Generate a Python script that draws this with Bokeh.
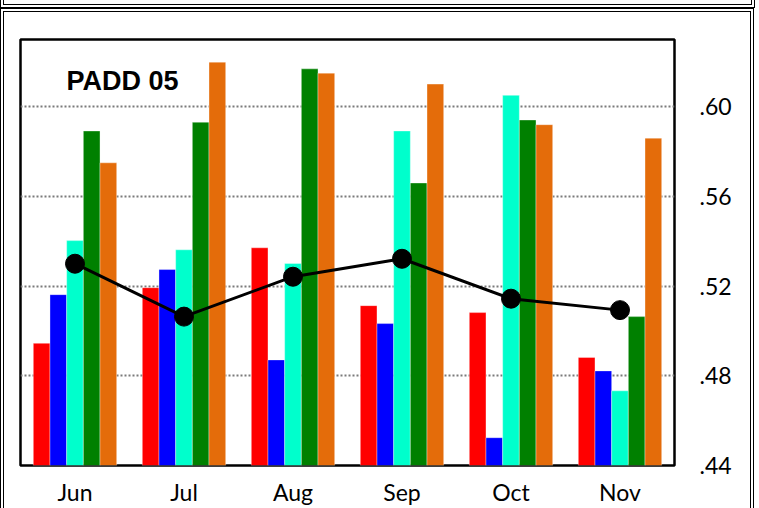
from bokeh.plotting import figure
from bokeh.models import ColumnDataSource, FactorRange, Range1d, Label, FixedTicker, Div
from bokeh.layouts import column
from bokeh.transform import dodge
from bokeh.embed import file_html
from bokeh.resources import INLINE

# ---------------- data ----------------
months = ["Jun", "Jul", "Aug", "Sep", "Oct", "Nov"]
series_red = [0.4945, 0.5193, 0.5371, 0.5113, 0.5082, 0.4882]
series_blue = [0.5162, 0.5274, 0.4871, 0.5033, 0.4524, 0.4822]
series_cyan = [0.5403, 0.5362, 0.5301, 0.5892, 0.6051, 0.4733]
series_green = [0.5892, 0.5931, 0.6169, 0.5660, 0.5941, 0.5064]
series_orange = [0.5750, 0.6199, 0.6150, 0.6101, 0.5920, 0.5860]
line_values = [0.5300, 0.5064, 0.5242, 0.5322, 0.5144, 0.5093]
y_ticks = [0.44, 0.48, 0.52, 0.56, 0.60]
y_tick_labels = [".44", ".48", ".52", ".56", ".60"]
chart_title = "PADD 05"
y_min, y_max = 0.44, 0.63

source = ColumnDataSource(dict(
    month=months, red=series_red, blue=series_blue, cyan=series_cyan,
    green=series_green, orange=series_orange, line=line_values))

bar_specs = [("red", "#FF0000"), ("blue", "#0000FF"), ("cyan", "#00FFCC"),
             ("green", "#008000"), ("orange", "#E46C0A")]
bar_w = 0.153

p = figure(x_range=FactorRange(factors=months), y_range=Range1d(y_min, y_max),
           width=746, height=496, output_backend="svg", toolbar_location=None,
           y_axis_location="right",
           min_border_left=16, min_border_top=27, min_border_right=76,
           min_border_bottom=43, margin=0)
p.background_fill_color = "white"
p.border_fill_color = "white"
p.outline_line_color = "black"
p.outline_line_width = 2.5

for i, (key, col) in enumerate(bar_specs):
    off = (i - 2) * bar_w
    p.vbar(x=dodge("month", off, range=p.x_range), top=key, bottom=y_min,
           width=bar_w, source=source, fill_color=col,
           line_color="white", line_alpha=0.35, line_width=1)

p.line(x="month", y="line", source=source, line_color="black", line_width=3)
p.scatter(x="month", y="line", source=source, size=19, fill_color="black",
          line_color="black")

# grid
p.xgrid.grid_line_color = None
p.ygrid.grid_line_color = "#7A7A7A"
p.ygrid.grid_line_width = 2
p.ygrid.grid_line_dash = "2 2"

# axes
p.yaxis.ticker = FixedTicker(ticks=y_ticks)
p.yaxis.major_label_overrides = dict(zip(y_ticks, y_tick_labels))
for ax in (p.xaxis[0], p.yaxis[0]):
    ax.axis_line_color = None
    ax.major_tick_line_color = None
    ax.minor_tick_line_color = None
    ax.major_label_text_font = "Lato"
    ax.major_label_text_font_size = "23px"
    ax.major_label_text_color = "black"
p.yaxis.major_label_standoff = 19
p.xaxis.major_label_standoff = 6

# title label
p.add_layout(Label(x=0.422, y=0.6117, text=chart_title, text_font="Liberation Sans",
                   text_font_style="bold", text_font_size="27px",
                   text_baseline="alphabetic", text_color="black"))

# decorative double-bordered frames (page chrome)
top_box = Div(text="", width=755, height=8, margin=0,
              styles={"box-sizing": "border-box",
                      "border-left": "4px double black",
                      "border-right": "4px double black",
                      "border-bottom": "4px double black",
                      "background": "white"})
chart_box = column(p, margin=0,
                   styles={"box-sizing": "content-box",
                           "border-left": "4px double black",
                           "border-right": "4px double black",
                           "border-top": "4px double black"})

layout = column(top_box, chart_box, spacing=0, margin=0)

open("out.html", "w").write(file_html(layout, INLINE))
